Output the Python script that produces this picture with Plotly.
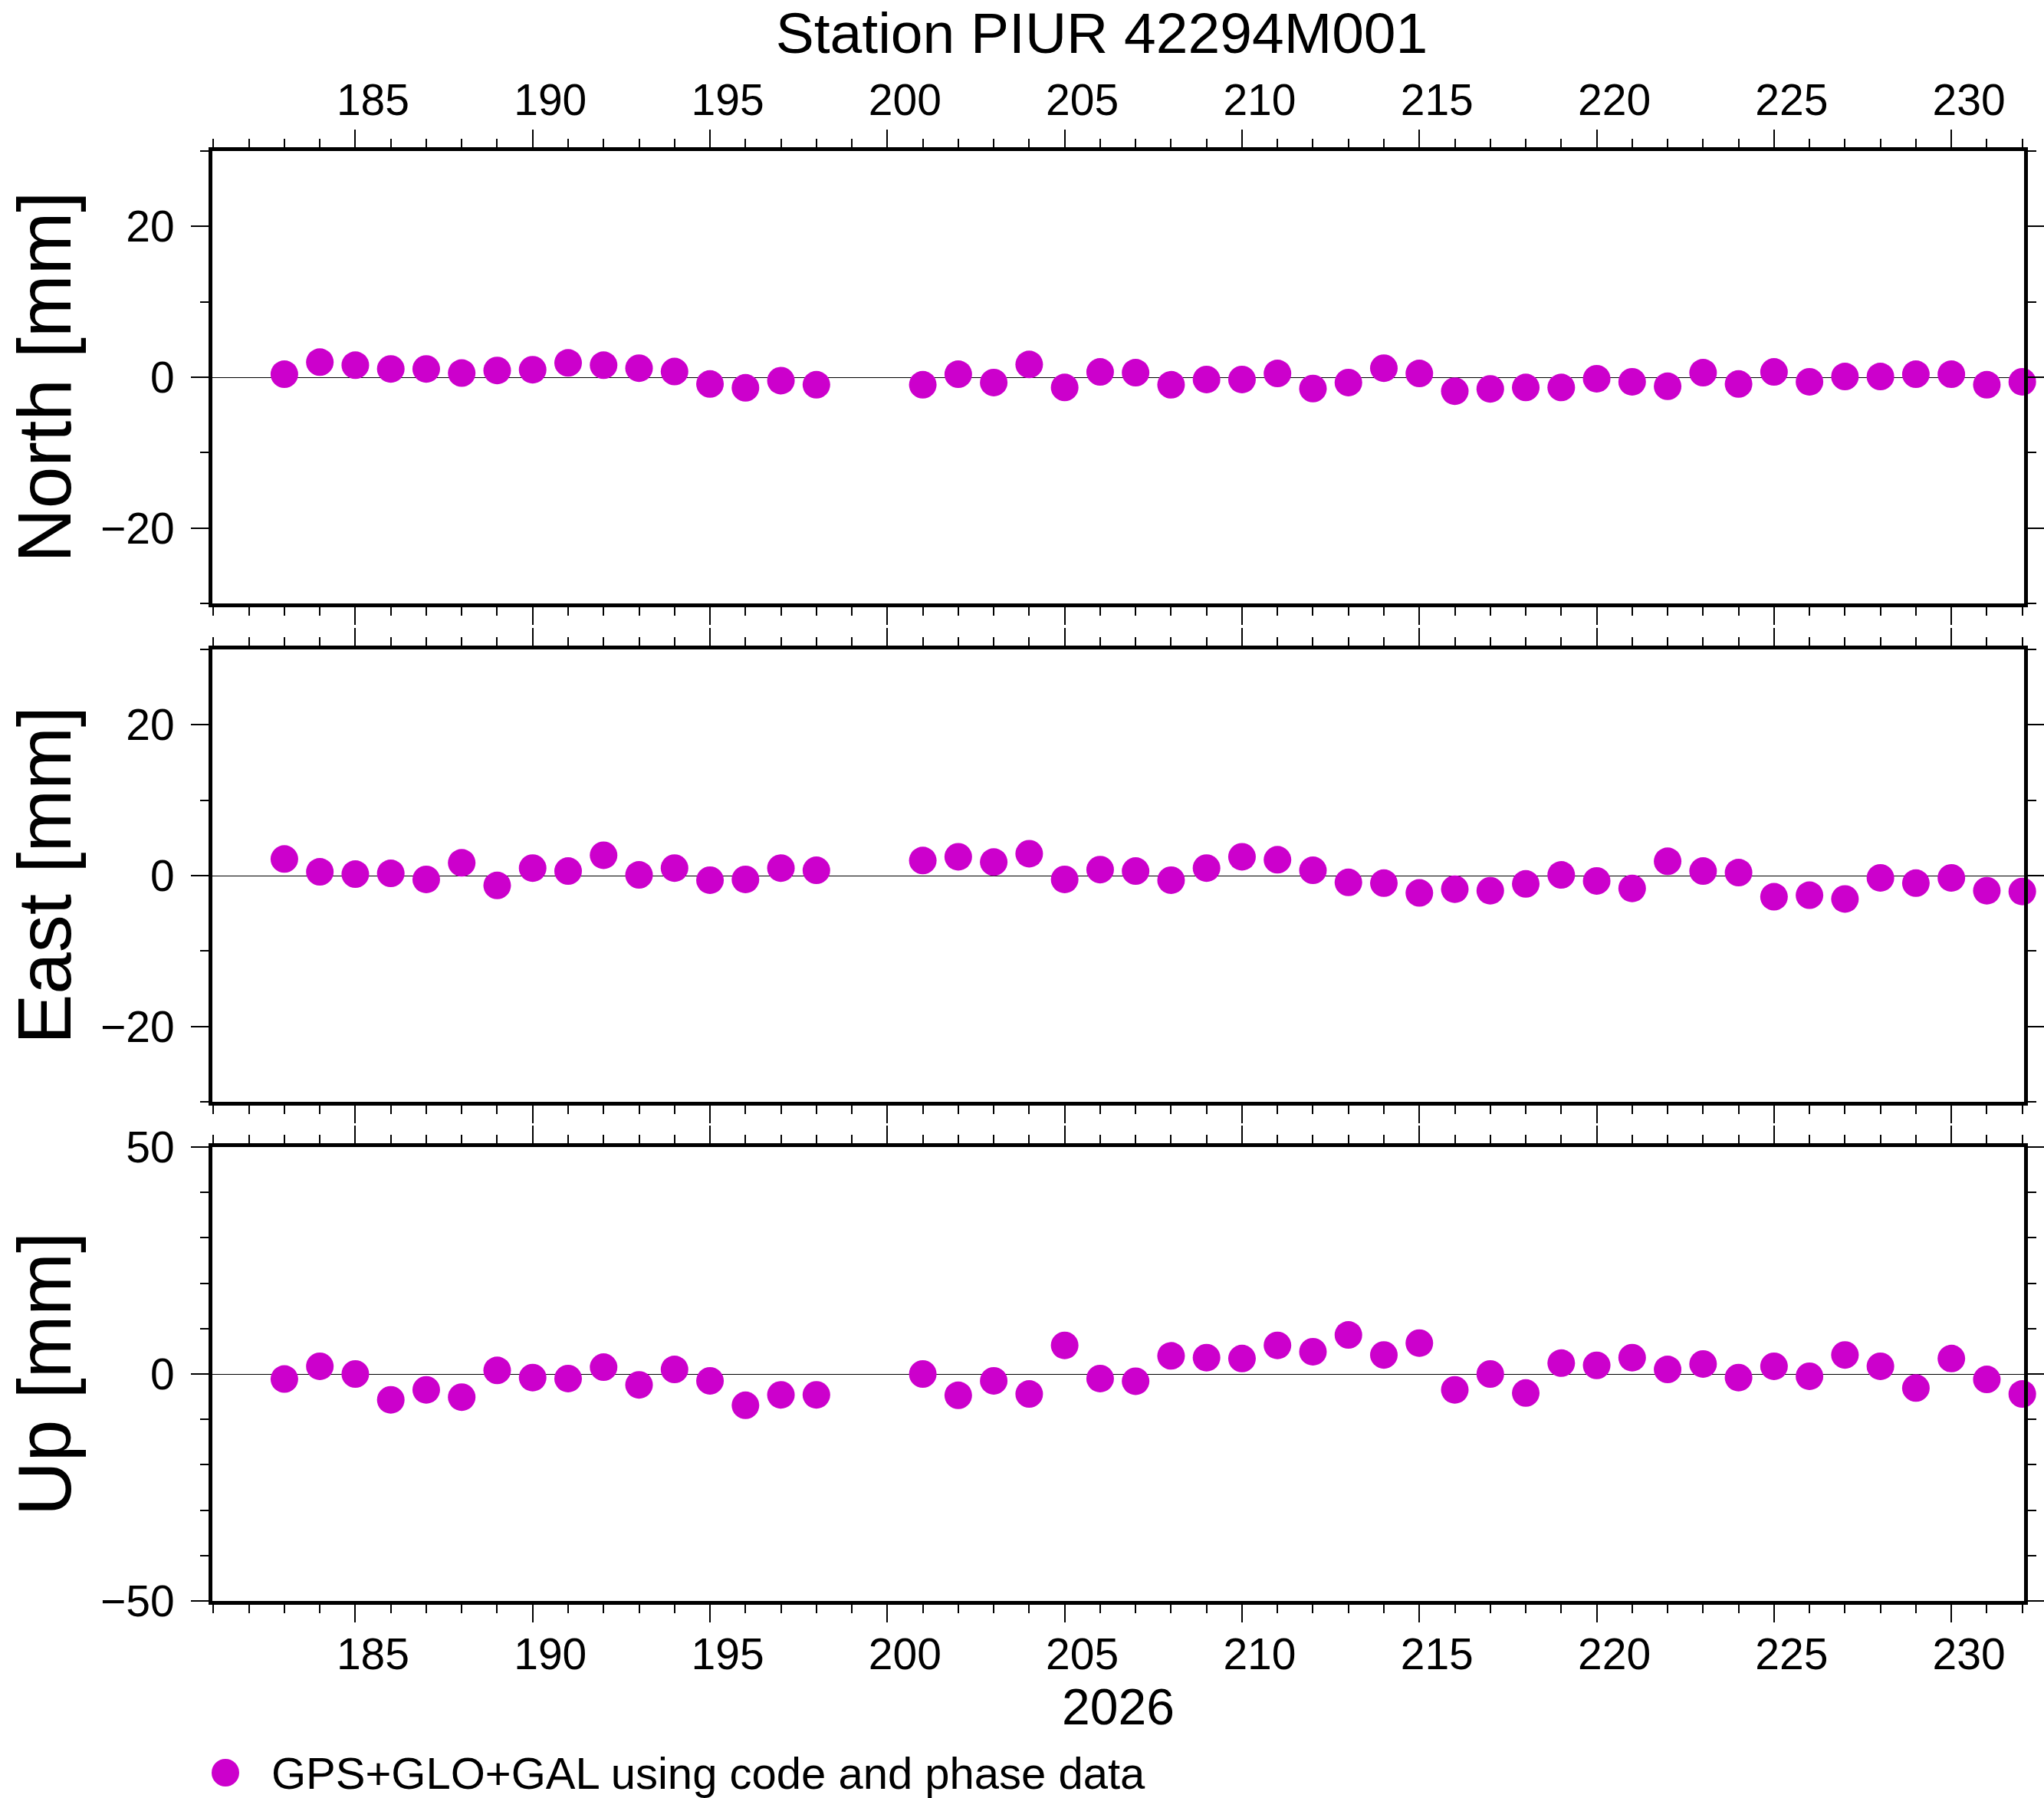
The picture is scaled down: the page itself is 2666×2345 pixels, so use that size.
import plotly.graph_objects as go

# ---------------- data ----------------
days = [183, 184, 185, 186, 187, 188, 189, 190, 191, 192, 193, 194, 195, 196, 197, 198,
        201, 202, 203, 204, 205, 206, 207, 208, 209, 210, 211, 212, 213, 214, 215, 216,
        217, 218, 219, 220, 221, 222, 223, 224, 225, 226, 227, 228, 229, 230, 231, 232]

north = [0.4, 2.0, 1.6, 1.1, 1.1, 0.55, 0.9, 1.0, 1.9, 1.6, 1.2, 0.75, -0.9, -1.4, -0.45, -1.0,
         -1.0, 0.4, -0.7, 1.7, -1.35, 0.7, 0.6, -1.0, -0.3, -0.3, 0.5, -1.5, -0.7, 1.2, 0.5, -1.85,
         -1.55, -1.35, -1.35, -0.2, -0.6, -1.2, 0.6, -0.9, 0.7, -0.6, 0.1, 0.1, 0.4, 0.4, -1.0, -0.6]

east = [2.2, 0.5, 0.2, 0.3, -0.5, 1.7, -1.3, 1.0, 0.6, 2.7, 0.1, 1.0, -0.6, -0.5, 1.0, 0.7,
        2.0, 2.5, 1.8, 2.9, -0.5, 0.8, 0.6, -0.6, 1.0, 2.5, 2.1, 0.7, -0.9, -1.0, -2.3, -1.8,
        -2.0, -1.1, 0.1, -0.7, -1.7, 1.9, 0.6, 0.4, -2.8, -2.6, -3.1, -0.3, -1.0, -0.3, -2.0, -2.1]

up = [-1.1, 1.7, 0.0, -5.7, -3.5, -5.1, 0.8, -0.8, -1.0, 1.5, -2.4, 1.0, -1.5, -6.9, -4.6, -4.6,
      0.0, -4.7, -1.5, -4.4, 6.3, -1.0, -1.6, 4.0, 3.6, 3.4, 6.3, 4.9, 8.6, 4.2, 6.8, -3.5,
      0.0, -4.2, 2.4, 1.9, 3.6, 1.0, 2.2, -0.8, 1.7, -0.5, 4.2, 1.7, -3.1, 3.4, -1.2, -4.4]

panel_titles = ["North [mm]", "East [mm]", "Up [mm]"]
panel_ranges = [[-30, 30], [-30, 30], [-50, 50]]
panel_major = [20, 20, 50]
panel_minor = [10, 10, 10]
x_range = [180.97, 232.05]
year_label = "2026"
title_text = "Station PIUR 42294M001"
legend_text = "GPS+GLO+GAL using code and phase data"

# ---------------- style ----------------
FONT = "Liberation Sans, Arial, Helvetica, sans-serif"
MAGENTA = "#CC00CC"
W, H = 2666, 2345
ML, MR, MT, MB = 277, 26, 197, 257
PW, PH = W - ML - MR, H - MT - MB
domains = [[0.6880, 1.0], [0.34426, 0.65627], [0.0, 0.31306]]

fig = go.Figure()
series = [north, east, up]
for i, vals in enumerate(series):
    sfx = "" if i == 0 else str(i + 1)
    fig.add_trace(go.Scatter(
        x=days, y=vals, mode="markers",
        marker=dict(size=36, color=MAGENTA, line=dict(width=0)),
        cliponaxis=False, showlegend=False,
        xaxis="x" + sfx, yaxis="y" + sfx,
    ))

common_x = dict(
    range=x_range, showgrid=False, zeroline=False, automargin=False,
    showline=True, linewidth=5, linecolor="black", mirror="ticks",
    ticks="outside", ticklen=23, tickwidth=2, tickcolor="black",
    tick0=185, dtick=5,
    minor=dict(ticks="outside", ticklen=11, tickwidth=2, tickcolor="black",
               tick0=181, dtick=1, showgrid=False),
    tickfont=dict(family=FONT, size=57, color="black"),
    ticklabelshift=23,
)
common_y = dict(
    showgrid=False, zeroline=True, zerolinecolor="black", zerolinewidth=1.3,
    automargin=False,
    showline=True, linewidth=5, linecolor="black", mirror="ticks",
    ticks="outside", ticklen=23, tickwidth=2, tickcolor="black",
    tickfont=dict(family=FONT, size=57, color="black"),
)

layout = dict(
    width=W, height=H, autosize=False,
    margin=dict(l=ML, r=MR, t=MT, b=MB, pad=0, autoexpand=False),
    paper_bgcolor="white", plot_bgcolor="white",
    font=dict(family=FONT, color="black"),
    showlegend=False,
    title=dict(text=title_text, font=dict(family=FONT, size=75, color="black"),
               xref="container", yref="container", automargin=False,
               x=1437 / W, xanchor="center", y=1 - 43 / H, yanchor="middle"),
)

for i in range(3):
    sfx = "" if i == 0 else str(i + 1)
    xa = dict(common_x, domain=[0, 1], anchor="y" + sfx)
    if i == 0:
        xa.update(side="top", showticklabels=True, ticklabelstandoff=-4)
    elif i == 1:
        xa.update(side="bottom", showticklabels=False, matches="x")
    else:
        xa.update(side="bottom", showticklabels=True, matches="x", ticklabelstandoff=-7,
                  title=dict(text=year_label, font=dict(family=FONT, size=66, color="black"),
                             standoff=8))
    ya = dict(common_y, domain=domains[i], anchor="x" + sfx,
              range=panel_ranges[i], tick0=0, dtick=panel_major[i],
              minor=dict(ticks="outside", ticklen=11, tickwidth=2, tickcolor="black",
                         tick0=0, dtick=panel_minor[i], showgrid=False),
              ticklabelstandoff=10)
    layout["xaxis" + sfx] = xa
    layout["yaxis" + sfx] = ya

fig.update_layout(**layout)

# y-axis titles, placed close to the page edge as in the reference
for i in range(3):
    fig.add_annotation(text=panel_titles[i], xref="paper", yref="paper",
                       x=(58 - ML) / PW, y=sum(domains[i]) / 2,
                       xanchor="center", yanchor="middle", textangle=-90,
                       showarrow=False, font=dict(family=FONT, size=98, color="black"))

# legend (drawn manually so the marker keeps its full size)
leg_x = (294 - ML) / PW
leg_y = (H - MB - 2312) / PH
fig.add_shape(type="circle", xref="paper", yref="paper",
              xsizemode="pixel", ysizemode="pixel",
              xanchor=leg_x, yanchor=leg_y, x0=-18, x1=18, y0=-18, y1=18,
              fillcolor=MAGENTA, line=dict(width=0))
fig.add_annotation(text=legend_text, xref="paper", yref="paper",
                   x=(352 - ML) / PW, y=leg_y, xanchor="left", yanchor="middle",
                   showarrow=False, font=dict(family=FONT, size=58, color="black"))

fig.write_html(
    "out.html",
    config={"displayModeBar": False},
    post_script=("document.body.style.margin='0';"
                 "document.body.style.overflow='hidden';"
                 "document.documentElement.style.overflow='hidden';"),
)
